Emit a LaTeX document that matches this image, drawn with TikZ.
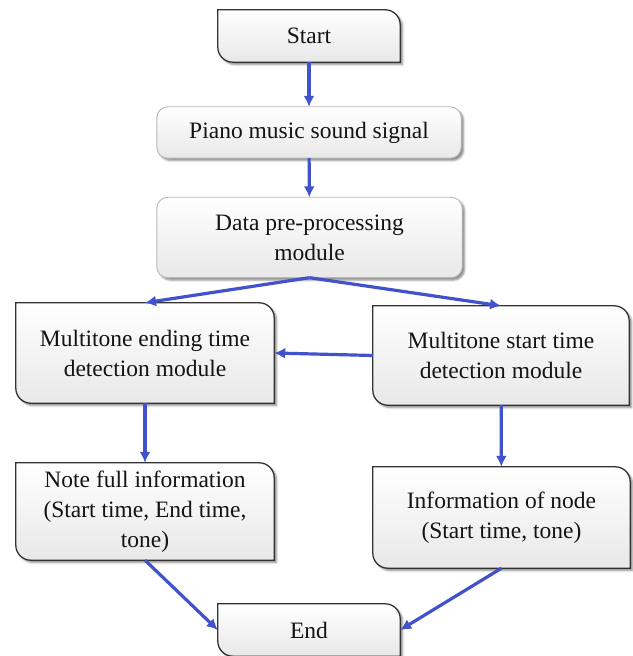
\documentclass[tikz,border=0pt]{standalone}
\usepackage{fontspec}
\setmainfont{Liberation Serif}
\usetikzlibrary{arrows.meta,shadows.blur}
\definecolor{arrowblue}{RGB}{66,82,202}
\pgfdeclarelayer{background}
\pgfsetlayers{background,main}
\tikzset{
  lbl/.style={align=center, font=\fontsize{23.5}{30}\selectfont, inner sep=0pt, text=black!92},
  boxshadow/.style={blur shadow={shadow xshift=2.5pt, shadow yshift=-2.5pt, shadow blur steps=4, shadow opacity=45}},
  darkedge/.style={draw=black!80, line width=1.3pt, top color=white, bottom color=black!9, boxshadow},
  lightedge/.style={draw=black!28, line width=0.9pt, rounded corners=11pt, top color=white, bottom color=black!9, boxshadow},
  flow/.style={draw=arrowblue, line width=3.2pt, -{Latex[length=11pt,width=11pt]}}
}
\newcommand\leafbox[1]{%
  \path[darkedge] (#1.north west) -- ([xshift=-15pt]#1.north east)
    arc[start angle=90,end angle=0,radius=15pt] -- (#1.south east)
    -- ([xshift=15pt]#1.south west)
    arc[start angle=270,end angle=180,radius=15pt] -- cycle;}
\newcommand\roundbox[1]{%
  \path[lightedge] (#1.north west) rectangle (#1.south east);}
\begin{document}
\begin{tikzpicture}[x=1pt,y=1pt]
\useasboundingbox (0,0) rectangle (632,656);
\node[lbl, minimum width=182pt, minimum height=52pt] (start) at (309,620) {Start};
\node[lbl, minimum width=304pt, minimum height=51pt] (piano) at (309,523.5) {Piano music sound signal};
\node[lbl, minimum width=305pt, minimum height=80pt] (data) at (309.5,418.5) {Data pre-processing\\module};
\node[lbl, minimum width=258pt, minimum height=100pt] (mend) at (145,303) {Multitone ending time\\detection module};
\node[lbl, minimum width=256pt, minimum height=99pt] (mstart) at (501,300.5) {Multitone start time\\detection module};
\node[lbl, minimum width=258pt, minimum height=97pt] (note) at (145,144.5) {Note full information\\(Start time, End time,\\tone)};
\node[lbl, minimum width=257pt, minimum height=101pt] (info) at (501.5,138.5) {Information of node\\(Start time, tone)};
\node[lbl, minimum width=182pt, minimum height=52pt] (end) at (309,26) {End};
\begin{pgfonlayer}{background}
\leafbox{start}
\roundbox{piano}
\roundbox{data}
\leafbox{mend}
\leafbox{mstart}
\leafbox{note}
\leafbox{info}
\leafbox{end}
\end{pgfonlayer}
\draw[flow] (start) -- (piano);
\draw[flow] (piano) -- (data);
\draw[flow] (data.south) -- (mend.north);
\draw[flow] (data.south) -- (mstart.north);
\draw[flow] (mstart.west) -- (mend.east);
\draw[flow] (mend) -- (note);
\draw[flow] (mstart) -- (info);
\draw[flow] (note.south) -- (end.west);
\draw[flow] (info.south) -- (end.east);
\end{tikzpicture}
\end{document}
